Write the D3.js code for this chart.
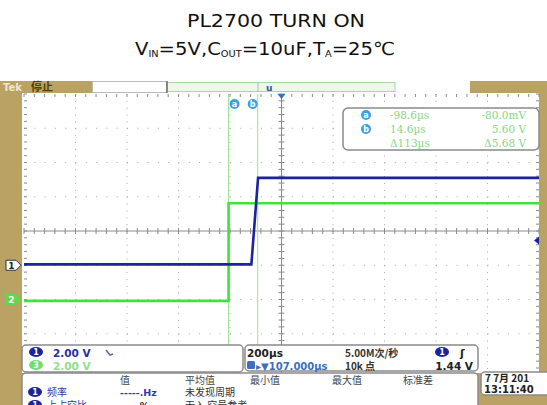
<!DOCTYPE html>
<html>
<head>
<meta charset="utf-8">
<script src="https://cdn.jsdelivr.net/npm/d3@7"></script>
<style>
body { margin: 0; background: #fff; }
svg { display: block; }
</style>
</head>
<body>
<div id="drawing_region"></div>
<script>
// scope traces (time in µs, volts)
const ch1Time = [-893, -10, 16, 1107];
const ch1Volts = [0.05, 0.05, 5.1, 5.1];
const ch2Time = [-893, -98.6, -98.6, 1107];
const ch2Volts = [-0.08, -0.08, 5.62, 5.62];

const cursorTimes = [-98.6, 14.6];
const cursorNames = ["a", "b"];
const cursorRows = [
    ["a", "-98.6µs", "-80.0mV"],
    ["b", "14.6µs", "5.60 V"],
    ["", "Δ113µs", "Δ5.68 V"]
];

const timeDomain = [-893, 1107];   // 200µs/div, 10 div
const voltsPerDiv = 2;
const ch1Ground = 5;   // divisions from top
const ch2Ground = 6;
const triggerLevel = 1.44;

const measureHeaders = ["值", "平均值", "最小值", "最大值", "标准差"];

const W = 547, H = 405;
const tan = "#b9a263";
const blue = "#1c239c";
const green = "#3fe23f";

const svg = d3.select("#drawing_region").append("svg")
    .attr("width", W).attr("height", H);

// ---- title ----
svg.append("text")
    .attr("x", 276).attr("y", 27)
    .attr("text-anchor", "middle")
    .attr("font-family", "DejaVu Sans")
    .attr("font-size", 17)
    .attr("textLength", 178).attr("lengthAdjust", "spacingAndGlyphs")
    .attr("fill", "#111")
    .text("PL2700 TURN ON");

const sub = svg.append("text")
    .attr("x", 135).attr("y", 55)
    .attr("font-family", "DejaVu Sans")
    .attr("font-size", 18)
    .attr("textLength", 260).attr("lengthAdjust", "spacingAndGlyphs")
    .attr("fill", "#111");
[["V", 0], ["IN", 1], ["=5V,C", 0], ["OUT", 1], ["=10uF,T", 0], ["A", 1], ["=25℃", 0]]
    .forEach(([t, s]) => {
        sub.append("tspan")
            .attr("font-size", s ? 9 : 18)
            .attr("baseline-shift", s ? "-25%" : null)
            .text(t);
    });

// ---- scope frame ----
svg.append("rect").attr("x", 0).attr("y", 81).attr("width", W).attr("height", H - 81).attr("fill", tan);

const gx = d3.scaleLinear().domain([0, 10]).range([24, 539]);
const gy = d3.scaleLinear().domain([0, 8]).range([94, 368]);

svg.append("rect").attr("x", 22).attr("y", 93).attr("width", 517).attr("height", 280).attr("fill", "#fff");

// top status bar
svg.append("rect").attr("x", 92).attr("y", 81).attr("width", 378).attr("height", 12).attr("fill", "#fff");
svg.append("rect").attr("x", 92.5).attr("y", 81.5).attr("width", 74).attr("height", 11)
    .attr("fill", "none").attr("stroke", "#bbb");
svg.append("rect").attr("x", 167).attr("y", 82.5).attr("width", 228).attr("height", 9)
    .attr("fill", "#eef7e8").attr("stroke", "#a8d8a0");
svg.append("line").attr("x1", 167).attr("x2", 167).attr("y1", 81).attr("y2", 93)
    .attr("stroke", "#555").attr("stroke-width", 1.2);
svg.append("line").attr("x1", 258).attr("x2", 258).attr("y1", 82).attr("y2", 92)
    .attr("stroke", "#9c9");
svg.append("text").attr("x", 266).attr("y", 91)
    .attr("font-family", "DejaVu Sans").attr("font-weight", "bold").attr("font-size", 9)
    .attr("fill", "#2a5aa0").text("u");
svg.append("text").attr("x", 3).attr("y", 91)
    .attr("font-family", "DejaVu Sans").attr("font-weight", "bold").attr("font-size", 10)
    .attr("fill", "#efe6cc").text("Tek");
svg.append("text").attr("x", 31).attr("y", 91)
    .attr("font-family", "Noto Sans CJK SC").attr("font-weight", "bold").attr("font-size", 11)
    .attr("fill", "#4d3f08").text("停止");

// ---- graticule ----
const grid = svg.append("g");
const dotColor = "#a8a8a8";
d3.range(1, 10).filter(i => i !== 5).forEach(i => {
    grid.append("line")
        .attr("x1", gx(i)).attr("x2", gx(i)).attr("y1", gy(0)).attr("y2", 373)
        .attr("stroke", dotColor).attr("stroke-width", 1)
        .attr("stroke-dasharray", `1 ${gy(0.2) - gy(0) - 1}`);
});
d3.range(1, 8).filter(i => i !== 4).forEach(i => {
    grid.append("line")
        .attr("x1", gx(0)).attr("x2", gx(10)).attr("y1", gy(i)).attr("y2", gy(i))
        .attr("stroke", dotColor).attr("stroke-width", 1)
        .attr("stroke-dasharray", `1 ${gx(0.2) - gx(0) - 1}`);
});
// centre cross with minor ticks
const axisColor = "#8a8a8a";
grid.append("line").attr("x1", gx(0)).attr("x2", gx(10)).attr("y1", gy(4)).attr("y2", gy(4))
    .attr("stroke", axisColor);
grid.append("line").attr("x1", gx(5)).attr("x2", gx(5)).attr("y1", gy(0)).attr("y2", 373)
    .attr("stroke", axisColor);
d3.range(0, 10.01, 0.2).forEach(d => {
    grid.append("line").attr("x1", gx(d)).attr("x2", gx(d))
        .attr("y1", gy(4) - 3).attr("y2", gy(4) + 3).attr("stroke", axisColor);
    grid.append("line").attr("x1", gx(d)).attr("x2", gx(d))
        .attr("y1", gy(0)).attr("y2", gy(0) + 3).attr("stroke", axisColor);
});
d3.range(0, 8.01, 0.2).filter(d => gy(d) < 373).forEach(d => {
    grid.append("line").attr("x1", gx(5) - 3).attr("x2", gx(5) + 3)
        .attr("y1", gy(d)).attr("y2", gy(d)).attr("stroke", axisColor);
    grid.append("line").attr("x1", gx(0)).attr("x2", gx(0) + 3)
        .attr("y1", gy(d)).attr("y2", gy(d)).attr("stroke", axisColor);
    grid.append("line").attr("x1", gx(10) - 3).attr("x2", gx(10))
        .attr("y1", gy(d)).attr("y2", gy(d)).attr("stroke", axisColor);
});

// ---- scales for traces ----
const x = d3.scaleLinear().domain(timeDomain).range([gx(0), gx(10)]);
const y1 = d3.scaleLinear().domain([0, voltsPerDiv]).range([gy(ch1Ground), gy(ch1Ground - 1)]);
const y2 = d3.scaleLinear().domain([0, voltsPerDiv]).range([gy(ch2Ground), gy(ch2Ground - 1)]);

// cursors
cursorTimes.forEach((t, i) => {
    svg.append("line").attr("x1", x(t)).attr("x2", x(t)).attr("y1", gy(0)).attr("y2", 345)
        .attr("stroke", "#9ee09e").attr("stroke-width", 1);
    const cx = i === 0 ? x(t) + 6 : x(t) - 5;
    svg.append("circle").attr("cx", cx).attr("cy", 104).attr("r", 5).attr("fill", "#3b9fe0");
    svg.append("text").attr("x", cx).attr("y", 107).attr("text-anchor", "middle")
        .attr("font-family", "DejaVu Sans").attr("font-weight", "bold").attr("font-size", 8)
        .attr("fill", "#fff").text(cursorNames[i]);
});

const line = (ys) => d3.line().x(d => x(d.t)).y(d => ys(d.v));
const ch1 = ch1Time.map((t, i) => ({ t, v: ch1Volts[i] }));
const ch2 = ch2Time.map((t, i) => ({ t, v: ch2Volts[i] }));

svg.append("path").datum(ch2).attr("d", line(y2))
    .attr("fill", "none").attr("stroke", green).attr("stroke-width", 2.6);
svg.append("path").datum(ch1).attr("d", line(y1))
    .attr("fill", "none").attr("stroke", blue).attr("stroke-width", 2.6);

// cursor readout box
svg.append("rect").attr("x", 343).attr("y", 108).attr("width", 196).attr("height", 42).attr("rx", 5)
    .attr("fill", "#fff").attr("stroke", "#8a8a8a").attr("stroke-width", 1.5);
cursorRows.forEach((r, i) => {
    const yy = 115 + i * 14;
    if (r[0]) {
        svg.append("circle").attr("cx", 366).attr("cy", yy).attr("r", 5).attr("fill", "#3b9fe0");
        svg.append("text").attr("x", 366).attr("y", yy + 3).attr("text-anchor", "middle")
            .attr("font-family", "DejaVu Sans").attr("font-weight", "bold").attr("font-size", 8)
            .attr("fill", "#fff").text(r[0]);
    }
    svg.append("text").attr("x", 390).attr("y", yy + 4)
        .attr("font-family", "DejaVu Serif").attr("font-size", 10.5)
        .attr("fill", "#86d886").text(r[1]);
    svg.append("text").attr("x", 526).attr("y", yy + 4).attr("text-anchor", "end")
        .attr("font-family", "DejaVu Serif").attr("font-size", 10.5)
        .attr("fill", "#86d886").text(r[2]);
});

// channel ground markers
const marker = (yy, fill, stroke, label, tc) => {
    svg.append("path")
        .attr("d", `M6,${yy - 5} H16 L21,${yy} L16,${yy + 5} H6 Z`)
        .attr("fill", fill).attr("stroke", stroke).attr("stroke-width", 1);
    svg.append("text").attr("x", 11.5).attr("y", yy + 3.5).attr("text-anchor", "middle")
        .attr("font-family", "DejaVu Sans").attr("font-weight", "bold").attr("font-size", 9)
        .attr("fill", tc).text(label);
};
marker(y1(0), "#fff", "#334", "1", "#223");
marker(y2(0), "#62d84a", "#62d84a", "2", "#fff");

// trigger level (right) and position (top)
svg.append("path")
    .attr("d", `M${gx(10) - 5},${y1(triggerLevel)} L${gx(10)},${y1(triggerLevel) - 4} L${gx(10)},${y1(triggerLevel) + 4} Z`)
    .attr("fill", blue);
svg.append("path")
    .attr("d", `M${gx(5) - 4},94 L${gx(5) + 4},94 L${gx(5)},99 Z`)
    .attr("fill", "#3b6fc0");

// ---- bottom panels ----
const panel = (px, py, pw, ph) => svg.append("rect")
    .attr("x", px).attr("y", py).attr("width", pw).attr("height", ph).attr("rx", 4)
    .attr("fill", "#fff").attr("stroke", "#8a8a8a").attr("stroke-width", 1.5);
panel(22, 345, 221, 27);
panel(245, 345, 233, 26);
panel(22, 373, 456, 45);
svg.append("rect").attr("x", 479).attr("y", 396).attr("width", 68).attr("height", 9).attr("fill", tan);
panel(481, 372, 72, 23);

const txt = (tx, ty, s, fill, opts = {}) => svg.append("text")
    .attr("x", tx).attr("y", ty)
    .attr("font-family", opts.family || "DejaVu Sans")
    .attr("font-weight", opts.weight || "bold")
    .attr("font-size", opts.size || 10.5)
    .attr("text-anchor", opts.anchor || "start")
    .attr("fill", fill).text(s);
const oval = (cx, cy, fill, label) => {
    svg.append("ellipse").attr("cx", cx).attr("cy", cy).attr("rx", 7).attr("ry", 5).attr("fill", fill);
    txt(cx, cy + 3, label, "#fff", { size: 8, anchor: "middle" });
};

oval(36, 352, blue, "1");
txt(53, 357, "2.00 V", "#27309a");
svg.append("path").attr("d", "M106,350 L110,355 L113,354").attr("fill", "none")
    .attr("stroke", "#5a6ab0").attr("stroke-width", 1.5);
oval(36, 365, "#6fe06f", "3");
txt(53, 370, "2.00 V", "#8ee08e");

txt(247, 357, "200µs", "#222");
txt(345, 357, "5.00M次/秒", "#333", { family: "Noto Sans CJK SC", size: 10 });
oval(442, 352, blue, "1");
txt(460, 357, "ʃ", "#222", { size: 11 });
svg.append("rect").attr("x", 247).attr("y", 361).attr("width", 8).attr("height", 8).attr("rx", 1.5).attr("fill", "#3b6fc0");
txt(256, 370, "▸▼107.000µs", "#3b6fc0", { size: 10 });
txt(345, 370, "10k 点", "#333", { family: "Noto Sans CJK SC", size: 10 });
txt(473, 370, "1.44 V", "#222", { anchor: "end" });

const cjk = { family: "Noto Sans CJK SC", weight: "normal", size: 10 };
const headerX = [120, 185, 250, 332, 403];
measureHeaders.forEach((h, i) => txt(headerX[i], 384, h, "#444", cjk));
oval(35, 392, blue, "1");
txt(47, 396, "频率", "#2a3aa8", cjk);
txt(120, 396, "-----.Hz", "#2a3aa8", { size: 9.5 });
txt(185, 396, "未发现周期", "#333", cjk);
oval(35, 405, blue, "1");
txt(47, 409, "上占空比", "#2a3aa8", cjk);
txt(120, 409, "-----%", "#333", { size: 9.5 });
txt(185, 409, "无入 空号参考", "#333", cjk);

txt(485, 382, "7 7月 201", "#222", { family: "Noto Sans CJK SC", size: 10 });
txt(484, 393, "13:11:40", "#222", { size: 10 });
</script>
</body>
</html>
